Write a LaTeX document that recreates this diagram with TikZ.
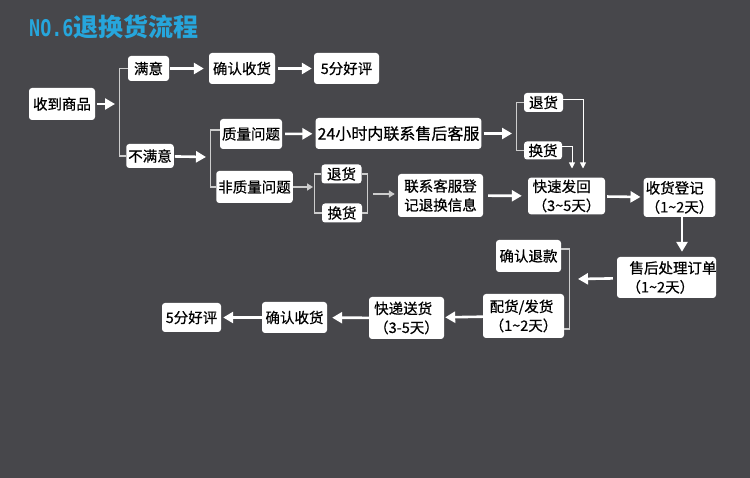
\documentclass[tikz,border=0pt]{standalone}
\usepackage{fontspec}
\setmainfont{Noto Sans CJK SC}
\newfontfamily\boxfont[FakeBold=0.6]{Noto Sans CJK SC}
\newfontfamily\titlemono[FakeStretch=0.8]{DejaVu Sans Mono}
\usepackage{xcolor}
\usepackage{tikz}
\usetikzlibrary{arrows.meta, positioning}
\definecolor{bgdark}{RGB}{71,71,75}
\definecolor{titleblue}{RGB}{38,166,220}
\definecolor{linegray}{RGB}{205,205,205}
\tikzset{
  box/.style={rectangle, rounded corners=3pt, fill=white, text=black, font=\boxfont\fontsize{14.5}{19}\selectfont, inner sep=2pt, align=center},
  arrow/.style={line width=2.6pt, white, -{Triangle[length=10pt,width=11pt]}},
  thinarrow/.style={line width=1.6pt, linegray, -{Triangle[length=6pt,width=7pt]}},
  droparrow/.style={line width=0.9pt, white, -{Triangle[length=6pt,width=6pt]}},
  bracket/.style={line width=1.2pt, linegray}
}
\begin{document}
\begin{tikzpicture}[x=1pt, y=-1pt]
\fill[bgdark] (0,0) rectangle (750,478);
\useasboundingbox (0,0) rectangle (750,478);

\node[anchor=west, inner sep=0, text=titleblue] (title) at (29,27)
  {{\titlemono\bfseries\fontsize{23}{23}\selectfont NO.6}{\bfseries\fontsize{25}{25}\selectfont 退换货流程}};

% first row
\node[box, minimum width=66pt, minimum height=32pt] (receive) at (62,104) {收到商品};
\node[box, minimum width=41pt, minimum height=25pt] (satisfied) at (148.5,68.5) {满意};
\node[box, minimum width=66pt, minimum height=31pt] (confirm1) at (242,68.5) {确认收货};
\node[box, minimum width=65pt, minimum height=31pt] (rate1) at (346.5,68.5) {5分好评};
\node[box, minimum width=46pt, minimum height=24pt] (unsatisfied) at (150,156) {不满意};

% quality branch
\node[box, minimum width=62pt, minimum height=30pt] (quality) at (251,134) {质量问题};
\node[box, minimum width=153pt, minimum height=31pt, font=\boxfont\fontsize{16}{19}\selectfont] (contact24) at (398.5,133.5) {24小时内联系售后客服};
\node[box, minimum width=39pt, minimum height=19pt] (return1) at (543.5,102.5) {退货};
\node[box, minimum width=38pt, minimum height=18pt] (exchange1) at (543,150.5) {换货};

% non quality branch
\node[box, minimum width=75pt, minimum height=32pt] (nonquality) at (254.5,187) {非质量问题};
\node[box, minimum width=40pt, minimum height=19pt] (return2) at (341.5,174) {退货};
\node[box, minimum width=40pt, minimum height=19pt] (exchange2) at (342,213) {换货};
\node[box, minimum width=85pt, minimum height=43pt, align=left] (register) at (440.5,195.5) {联系客服登\\记退换信息};

% after sales
\node[box, minimum width=77pt, minimum height=36pt, align=left] (sendback) at (566.5,196) {快速发回\\（3\textasciitilde 5天）};
\node[box, minimum width=69pt, minimum height=39pt, align=left] (checkin) at (679.5,197.5) {收货登记\\（1\textasciitilde 2天）};
\node[box, minimum width=99pt, minimum height=41pt, align=left, text width=86pt] (process) at (666.5,277.5) {\hspace*{6pt}售后处理订单\\\hspace*{3pt}（1\textasciitilde 2天）};
\node[box, minimum width=65pt, minimum height=32pt] (refund) at (528.5,256) {确认退款};
\node[box, minimum width=81pt, minimum height=44pt, align=left] (ship) at (523.5,316) {配货/发货\\（1\textasciitilde 2天）};
\node[box, minimum width=75pt, minimum height=42pt, align=left] (deliver) at (406.5,318) {快递送货\\（3-5天）};
\node[box, minimum width=65pt, minimum height=31pt] (confirm2) at (294.5,317.5) {确认收货};
\node[box, minimum width=59pt, minimum height=29pt] (rate2) at (191.5,317.5) {5分好评};

% split points
\coordinate (split1) at (115,104);
\coordinate (split2) at (206,157);
\coordinate (split3) at (512,133.5);
\coordinate (split4) at (313,187);
\coordinate (merge4) at (373,194);
\coordinate (split6) at (578,279);

% brackets
\draw[bracket] (satisfied.west) -- ++(-8.5,0) |- (unsatisfied.west);
\draw[bracket] ([yshift=4pt]quality.west) -- ++(-9,0) |- (nonquality.west);
\draw[bracket] (return1.west) -- ++(-7,0) |- (exchange1.west);
\draw[bracket] (return2.west) -- ++(-6.5,0) |- (exchange2.west);
\draw[bracket] (return2.east) -- ++(6,0) |- (exchange2.east);
\draw[bracket] ([yshift=7pt]refund.east) -- ++(8,0) |- ([yshift=-13pt]ship.east);

% arrows
\draw[arrow, shorten <=2pt] (receive) -- (split1);
\draw[arrow, shorten <=1pt, shorten >=5pt] (satisfied) -- (confirm1);
\draw[arrow, shorten <=3pt, shorten >=2pt] (confirm1) -- (rate1);
\draw[arrow, shorten <=1pt] (unsatisfied) -- (split2);
\draw[arrow, shorten <=3pt, shorten >=3pt] (quality) -- (contact24);
\draw[arrow, shorten <=2pt] (contact24) -- (split3);
\draw[droparrow, shorten >=9pt] ([yshift=3pt]return1.east) -| ([xshift=16.5pt]sendback.north);
\draw[droparrow, shorten >=9pt] ([yshift=4pt]exchange1.east) -| ([xshift=5.5pt]sendback.north);
\draw[thinarrow] (nonquality) -- (split4);
\draw[thinarrow, shorten >=3pt] (merge4) -- (merge4 -| register.west);
\draw[arrow, shorten <=5pt, shorten >=6pt] (register) -- (sendback);
\draw[arrow, shorten <=2pt, shorten >=3pt] (sendback) -- (checkin);
\draw[arrow, shorten >=5pt] ([xshift=2.5pt]checkin.south) -- ([xshift=2.5pt]checkin.south |- process.north);
\draw[arrow, shorten <=4pt] (process) -- (split6);
\draw[arrow, shorten >=1pt] (ship) -- (deliver);
\draw[arrow, shorten >=5pt] (deliver) -- (confirm2);
\draw[arrow, shorten >=2pt] (confirm2) -- (rate2);
\end{tikzpicture}
\end{document}
